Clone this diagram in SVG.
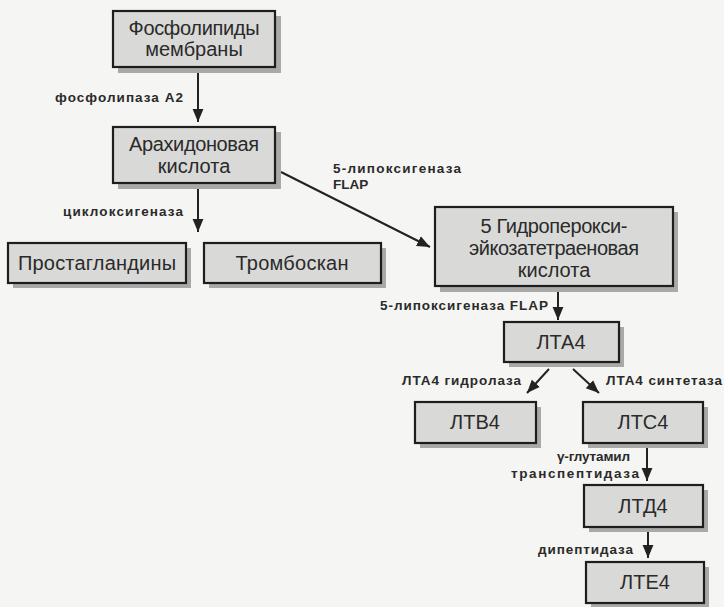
<svg xmlns="http://www.w3.org/2000/svg" width="724" height="607" viewBox="0 0 724 607">
<style>
.box{fill:#d9d9d7;stroke:#1e1e1e;stroke-width:2.2}
.sh{fill:#a9a9a7}
.t{font-family:"Liberation Sans",Arial,sans-serif;font-size:20px;fill:#2a2a2a;text-anchor:middle}
.l{font-family:"Liberation Sans",Arial,sans-serif;font-size:13.5px;font-weight:bold;fill:#2a2a2a}
.c{stroke:#222;stroke-width:2;fill:none;marker-end:url(#ah)}
</style>
<defs>
<marker id="ah" viewBox="0 0 12 10" refX="12" refY="5" markerWidth="6.5" markerHeight="6" markerUnits="strokeWidth" orient="auto">
<path d="M0,0 L12,5 L0,10 Z" fill="#222"/>
</marker>
</defs>
<rect width="724" height="607" fill="#f5f5f3"/>
<g id="connectors">
<line class="c" x1="198" y1="68" x2="198" y2="122"/>
<line class="c" x1="198" y1="183" x2="198" y2="232"/>
<line class="c" x1="281" y1="172" x2="430" y2="247"/>
<line class="c" x1="558" y1="287" x2="558" y2="320"/>
<line class="c" x1="549" y1="369" x2="527" y2="393"/>
<line class="c" x1="573" y1="369" x2="599" y2="393"/>
<line class="c" x1="647" y1="444" x2="647" y2="481"/>
<line class="c" x1="648" y1="528" x2="648" y2="558"/>
<text class="l" x="55" y="102" textLength="128">фосфолипаза А2</text>
<text class="l" x="63" y="216" textLength="120">циклоксигеназа</text>
<text class="l" x="333" y="173" textLength="128">5-липоксигеназа</text>
<text class="l" x="333" y="189">FLAP</text>
<text class="l" x="380" y="310" textLength="168">5-липоксигеназа FLAP</text>
<text class="l" x="402" y="385" textLength="119">ЛТА4 гидролаза</text>
<text class="l" x="606" y="385" textLength="116">ЛТА4 синтетаза</text>
<text class="l" x="557" y="461" textLength="73">γ-глутамил</text>
<text class="l" x="511" y="478" textLength="128">транспептидаза</text>
<text class="l" x="538" y="554" textLength="95">дипептидаза</text>
</g>
<g id="n1">
<rect class="sh" x="118" y="16" width="163" height="57"/>
<rect class="box" x="113" y="11" width="162" height="56"/>
<text class="t" x="194" y="35" textLength="131">Фосфолипиды</text>
<text class="t" x="194" y="56">мембраны</text>
</g>
<g id="n2">
<rect class="sh" x="118" y="132" width="163" height="57"/>
<rect class="box" x="113" y="127" width="162" height="56"/>
<text class="t" x="194" y="151" textLength="130">Арахидоновая</text>
<text class="t" x="194" y="173">кислота</text>
</g>
<g id="n3">
<rect class="sh" x="13" y="248" width="178" height="40"/>
<rect class="box" x="8" y="243" width="178" height="40"/>
<text class="t" x="97" y="270" textLength="158">Простагландины</text>
</g>
<g id="n4">
<rect class="sh" x="209" y="248" width="177" height="40"/>
<rect class="box" x="204" y="243" width="177" height="40"/>
<text class="t" x="292" y="270" textLength="113">Тромбоскан</text>
</g>
<g id="n5">
<rect class="sh" x="440" y="212" width="238" height="80"/>
<rect class="box" x="435" y="207" width="238" height="79"/>
<text class="t" x="554" y="233" textLength="147">5 Гидроперокси-</text>
<text class="t" x="554" y="255" textLength="170">эйкозатетраеновая</text>
<text class="t" x="554" y="277">кислота</text>
</g>
<g id="n6">
<rect class="sh" x="509" y="327" width="115" height="40"/>
<rect class="box" x="504" y="322" width="115" height="40"/>
<text class="t" x="561" y="349">ЛТА4</text>
</g>
<g id="n7">
<rect class="sh" x="420" y="407" width="121" height="41"/>
<rect class="box" x="415" y="402" width="121" height="41"/>
<text class="t" x="475" y="429">ЛТВ4</text>
</g>
<g id="n8">
<rect class="sh" x="588" y="407" width="120" height="41"/>
<rect class="box" x="583" y="402" width="120" height="41"/>
<text class="t" x="643" y="429">ЛТС4</text>
</g>
<g id="n9">
<rect class="sh" x="589" y="490" width="119" height="42"/>
<rect class="box" x="584" y="485" width="119" height="42"/>
<text class="t" x="643" y="513">ЛТД4</text>
</g>
<g id="n10">
<rect class="sh" x="591" y="567" width="118" height="41"/>
<rect class="box" x="586" y="562" width="118" height="41"/>
<text class="t" x="645" y="589">ЛТЕ4</text>
</g>
</svg>
